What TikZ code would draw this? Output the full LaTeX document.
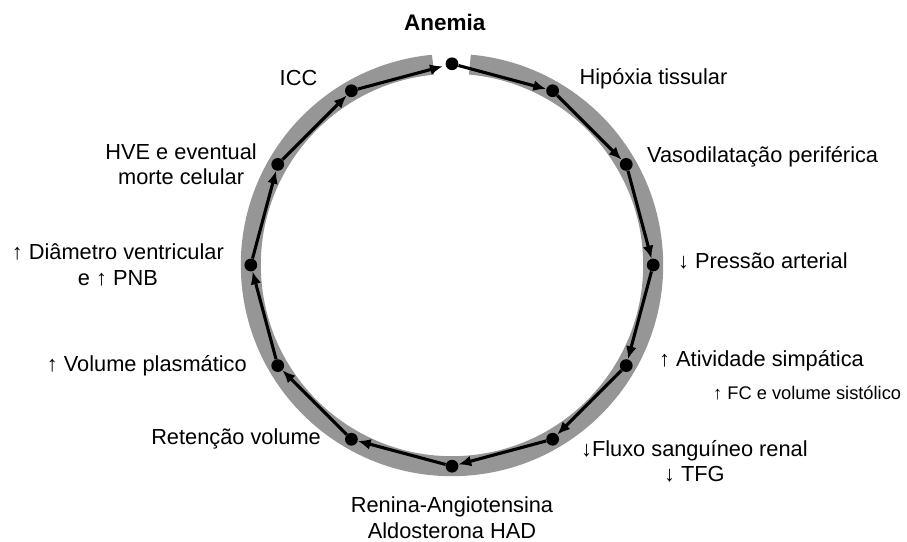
\documentclass[tikz,border=0pt]{standalone}
\usepackage{fontspec}
\setmainfont{Liberation Sans}
\usetikzlibrary{positioning,arrows.meta}
\definecolor{bandgray}{RGB}{150,150,150}
\newcommand{\up}{\textbf{↑}}
\newcommand{\down}{\textbf{↓}}
\tikzset{
  dot/.style={circle, fill=black, inner sep=0pt, minimum size=0.32cm},
  lbl/.style={inner sep=0pt, font=\fontsize{15.5}{18}\selectfont},
  link/.style={line width=2.2pt, -{Latex[length=0.32cm, width=0.27cm]}},
}

\begin{document}
\begin{tikzpicture}
  \useasboundingbox (0,0) rectangle (22.675,13.525);
  \coordinate (c) at (11.3,6.9);
  \draw[bandgray, line width=0.5cm] (c) ++(95.4:5.03) arc[start angle=95.4, end angle=444.9, radius=5.03];

  \foreach \n/\ang in {a/90, hip/60, vas/30, pre/0, ati/-30, flu/-60, ren/-90, ret/-120, vol/-150, dia/180, hve/150, icc/120}
    \node[dot] (\n) at ([shift={(\ang:5.03)}]c) {};

  \node[lbl, font=\fontsize{16}{18}\selectfont\bfseries, above=0.65cm of a, xshift=-0.18cm] {Anemia};
  \node[lbl, right=0.5cm of hip, yshift=0.3cm] {Hipóxia tissular};
  \node[lbl, right=0.35cm of vas, yshift=0.2cm] {Vasodilatação periférica};
  \node[lbl, right=0.45cm of pre, yshift=0.1cm] {\down{} Pressão arterial};
  \node[lbl, right=0.65cm of ati, yshift=0.12cm] {\up{} Atividade simpática};
  \node[lbl, font=\fontsize{13}{15}\selectfont, right=2cm of ati, yshift=-0.69cm] {\up{} FC e volume sistólico};
  \node[lbl, align=center, right=0.54cm of flu, yshift=-0.55cm] {\down Fluxo sanguíneo renal\\\down{} TFG};
  \node[lbl, align=center, below=0.6cm of ren] {Renina-Angiotensina\\Aldosterona HAD};
  \node[lbl, left=0.59cm of ret] {Retenção volume};
  \node[lbl, left=0.6cm of vol] {\up{} Volume plasmático};
  \node[lbl, align=center, left=0.5cm of dia] {\up{} Diâmetro ventricular\\e \up{} PNB};
  \node[lbl, align=center, left=0.35cm of hve] {HVE e eventual\\morte celular};
  \node[lbl, left=0.68cm of icc, yshift=0.33cm] {ICC};

  \foreach \x/\y in {a/hip, hip/vas, vas/pre, pre/ati, ati/flu, flu/ren, ren/ret, ret/vol, vol/dia, dia/hve, hve/icc}
    \draw[link] (\x) -- (\y);
  \draw[link, shorten >=2pt] (icc) -- (a);
\end{tikzpicture}
\end{document}
